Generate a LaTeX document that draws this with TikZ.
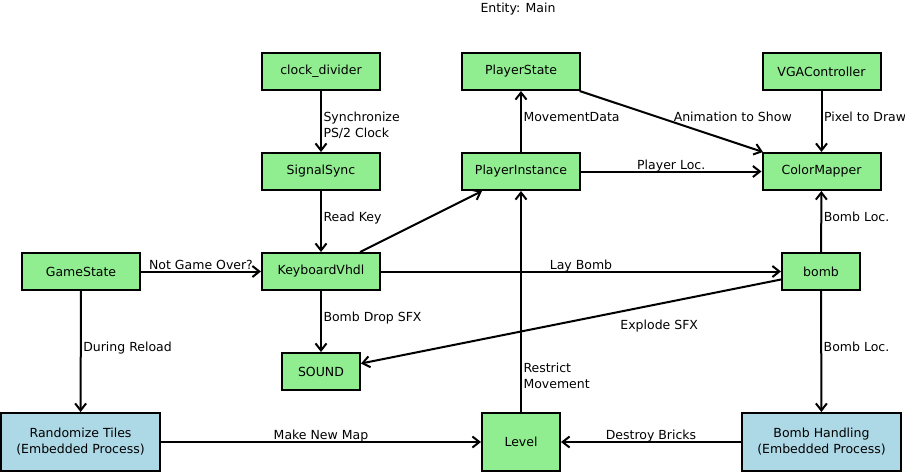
\documentclass[tikz,border=0pt]{standalone}
\usepackage{fontspec}
\setmainfont{DejaVu Sans}
\usetikzlibrary{arrows.meta}
\definecolor{boxgreen}{HTML}{90EE90}
\definecolor{boxblue}{HTML}{ADD8E6}
\tikzset{
  unit/.style={draw=black, line width=2pt, fill=boxgreen, minimum width=118pt, minimum height=37pt, inner sep=0pt},
  smallunit/.style={unit, minimum width=78pt},
  process/.style={unit, fill=boxblue, minimum width=159pt, minimum height=58pt, align=center},
  link/.style={line width=2pt, -{Straight Barb[length=7pt,width=11pt,line width=2pt]}},
  vlbl/.style={midway, anchor=base west, inner sep=0pt, xshift=1.5pt, align=left},
  vlbltwo/.style={vlbl, yshift=-16pt},
  hlbl/.style={midway, anchor=base, inner sep=0pt, yshift=2.5pt}
}

\begin{document}
\begin{tikzpicture}[x=1pt, y=-1pt, font=\fontsize{12.5}{16}\selectfont]
\useasboundingbox (0,0) rectangle (905,472);

\node[anchor=base] (title) at (518, 12) {Entity: Main};

\node[unit] (clock) at (321, 71.5) {clock\_divider};
\node[unit] (pstate) at (521, 71.5) {PlayerState};
\node[unit] (vga) at (821.5, 71.5) {VGAController};
\node[unit] (sync) at (321, 171.5) {SignalSync};
\node[unit] (pinst) at (521, 171.5) {PlayerInstance};
\node[unit] (cmap) at (821.5, 171.5) {ColorMapper};
\node[unit] (game) at (81, 271.5) {GameState};
\node[unit] (kbd) at (321, 271.5) {KeyboardVhdl};
\node[smallunit] (bomb) at (821, 271.5) {bomb};
\node[smallunit] (sound) at (321, 371.5) {SOUND};
\node[process] (rand) at (80.5, 442) {Randomize Tiles\\(Embedded Process)};
\node[process, fill=boxgreen, minimum width=78pt] (level) at (521, 442) {Level};
\node[process] (bhand) at (821.5, 442) {Bomb Handling\\(Embedded Process)};

\draw[link] (clock) -- node[vlbltwo]{Synchronize\\PS/2 Clock} (sync);
\draw[link] (sync) -- node[vlbl]{Read Key} (kbd);
\draw[link] (kbd) -- (pinst);
\draw[link] (pinst) -- node[vlbl]{MovementData} (pstate);
\draw[link] (pstate) -- node[vlbl]{Animation to Show} (cmap);
\draw[link] (pinst) -- node[hlbl]{Player Loc.} (cmap);
\draw[link] (vga) -- node[vlbl]{Pixel to Draw} (cmap);
\draw[link] (bomb) -- node[vlbl]{Bomb Loc.} (cmap);
\draw[link] (game) -- node[hlbl]{Not Game Over?} (kbd);
\draw[link] (kbd) -- node[hlbl]{Lay Bomb} (bomb);
\draw[link] (kbd) -- node[vlbl]{Bomb Drop SFX} (sound);
\draw[link] (bomb) -- node[pos=0.29, anchor=north, inner sep=0pt, yshift=-15pt]{Explode SFX} (sound);
\draw[link] (game) -- node[vlbl]{During Reload} (rand);
\draw[link] (bomb) -- node[vlbl]{Bomb Loc.} (bhand);
\draw[link] (rand) -- node[hlbl]{Make New Map} (level);
\draw[link] (bhand) -- node[hlbl]{Destroy Bricks} (level);
\draw[link] (level) -- node[vlbltwo, pos=0.18]{Restrict\\Movement} (pinst);

\end{tikzpicture}
\end{document}
